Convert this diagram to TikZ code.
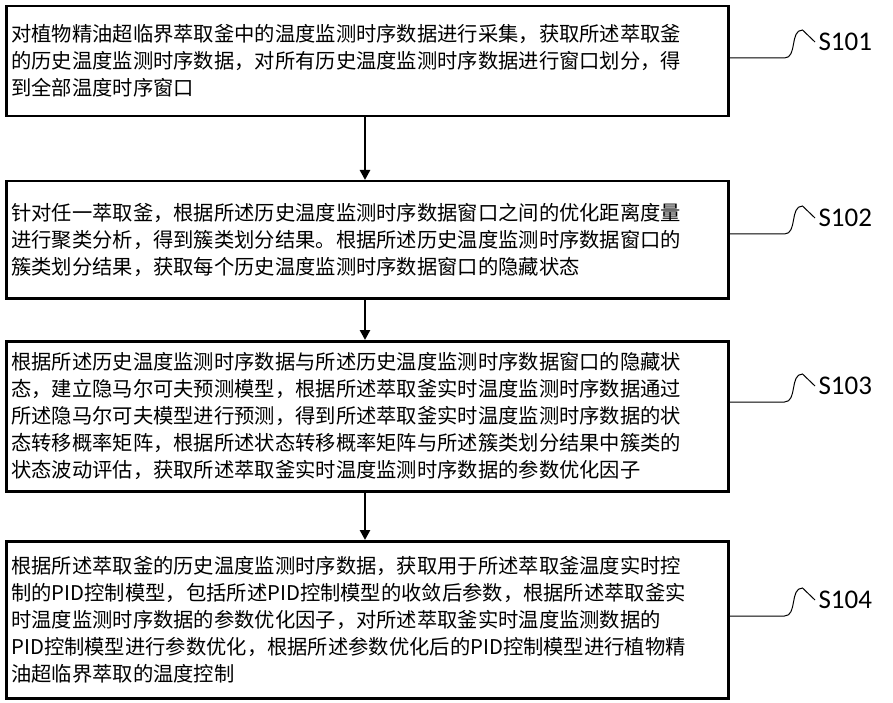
\documentclass[tikz,border=0pt]{standalone}
\usepackage{fontspec}
\newfontfamily\cjk{Noto Sans CJK SC}
\newfontfamily\lab{Carlito}
\usetikzlibrary{arrows.meta}
\begin{document}
\begin{tikzpicture}[x=1pt,y=-1pt,
  box/.style={draw,line width=2.5pt,anchor=north west,align=left,inner sep=5pt,font=\cjk\fontsize{20.3}{27}\selectfont,text width=712pt,minimum width=722pt},
  lbl/.style={font=\lab\fontsize{27}{30}\selectfont,anchor=west},
  arr/.style={line width=2.5pt,-{Triangle[length=10pt,width=10pt]}},
  wave/.style={line width=1pt}]
\useasboundingbox (0,0) rectangle (893,703);
\node[box,minimum height=110pt] (b1) at (5,5) {对植物精油超临界萃取釜中的温度监测时序数据进行采集，获取所述萃取釜\\的历史温度监测时序数据，对所有历史温度监测时序数据进行窗口划分，得\\到全部温度时序窗口};
\node[box,minimum height=117pt] (b2) at (5,180) {针对任一萃取釜，根据所述历史温度监测时序数据窗口之间的优化距离度量\\进行聚类分析，得到簇类划分结果。根据所述历史温度监测时序数据窗口的\\簇类划分结果，获取每个历史温度监测时序数据窗口的隐藏状态};
\node[box,minimum height=150pt] (b3) at (5,340) {根据所述历史温度监测时序数据与所述历史温度监测时序数据窗口的隐藏状\\态，建立隐马尔可夫预测模型，根据所述萃取釜实时温度监测时序数据通过\\所述隐马尔可夫模型进行预测，得到所述萃取釜实时温度监测时序数据的状\\态转移概率矩阵，根据所述状态转移概率矩阵与所述簇类划分结果中簇类的\\状态波动评估，获取所述萃取釜实时温度监测时序数据的参数优化因子};
\node[box,minimum height=157pt] (b4) at (5,540) {根据所述萃取釜的历史温度监测时序数据，获取用于所述萃取釜温度实时控\\制的PID控制模型，包括所述PID控制模型的收敛后参数，根据所述萃取釜实\\时温度监测时序数据的参数优化因子，对所述萃取釜实时温度监测数据的\\PID控制模型进行参数优化，根据所述参数优化后的PID控制模型进行植物精\\油超临界萃取的温度控制};
\draw[arr] (b1.south -| 365,0) -- (b2.north -| 365,0);
\draw[arr] (b2.south -| 365,0) -- (b3.north -| 365,0);
\draw[arr] (b3.south -| 365,0) -- (b4.north -| 365,0);
\node[lbl] (l1) at (815,42) {S101};
\node[lbl] (l2) at (815,218) {S102};
\node[lbl] (l3) at (815,386) {S103};
\node[lbl] (l4) at (815,600) {S104};
\foreach \b/\l in {b1/l1,b2/l2,b3/l3,b4/l4}{
  \draw[wave] (\b.east |- \l.west) ++(0,16) coordinate (s\b) -- ++(55,0) to[out=0,in=180] ++(18,-28) -- (\l.west);
}
\end{tikzpicture}
\end{document}
